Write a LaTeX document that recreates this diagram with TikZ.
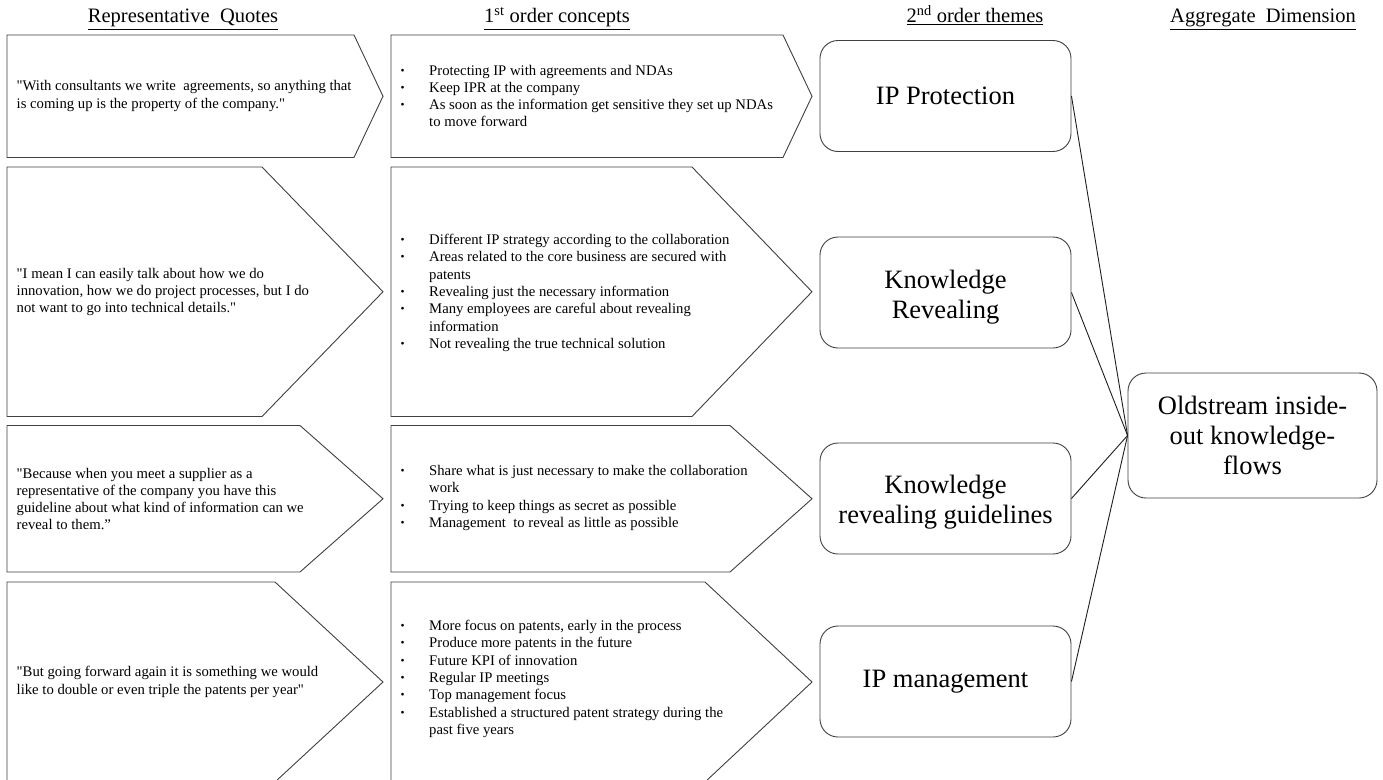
\documentclass[tikz,border=0pt]{standalone}
\usepackage{fontspec}
\setmainfont{Liberation Serif}
\definecolor{edge}{RGB}{64,64,64}
\definecolor{linkc}{RGB}{30,30,30}
\newcommand\qd{\textquotedbl}
\newcommand\bitem[1]{\makebox[31pt][l]{\hspace{2.5pt}\raisebox{1pt}{\fontsize{11.5}{11.5}\selectfont\textbullet}}#1}
\newcommand\bcont[1]{\hspace*{31pt}#1}
% home-plate (pentagon arrow): left x, corner x, tip x, top y, bottom y
\newcommand\homeplate[5]{\draw[plate] (#1,#4) -- (#2,#4) -- (#3,{(#4+#5)/2}) -- (#2,#5) -- (#1,#5) -- cycle;}
\tikzset{
  plate/.style={draw=edge, line width=0.9pt, fill=white},
  body/.style={anchor=west, align=left, inner sep=0pt, font=\fontsize{14.7}{17.3}\selectfont},
  theme/.style={draw=edge, line width=0.9pt, rounded corners=18pt, minimum width=251pt,
    minimum height=111pt, align=center, inner sep=2pt, font=\fontsize{26.5}{30}\selectfont},
  head/.style={anchor=base, inner sep=0pt, font=\fontsize{20.5}{24}\selectfont},
  link/.style={draw=linkc, line width=0.9pt}
}
\begin{document}
\begin{tikzpicture}[x=1pt,y=-1pt]
\fill[white] (0,0) rectangle (1383,779);
\useasboundingbox (0,0) rectangle (1383,779);

% column headings
\node[head] (h1) at (183,23) {\underline{Representative\ \ Quotes}};
\node[head] (h2) at (557,23) {\underline{1\textsuperscript{st} order concepts}};
\node[head] (h3) at (975,23) {\underline{2\textsuperscript{nd} order themes}};
\node[head] (h4) at (1263,23) {\underline{Aggregate\ \ Dimension}};

% quote arrows
\homeplate{7}{354}{383}{35}{157.5}
\homeplate{7}{262}{383}{167}{416.5}
\homeplate{7}{300}{383}{425.5}{572}
\homeplate{7}{275}{383}{582}{782}

% concept arrows
\homeplate{391}{783}{812}{35}{157.5}
\homeplate{391}{692}{812}{167}{416.5}
\homeplate{391}{730}{812}{425.5}{572}
\homeplate{391}{705}{812}{582}{782}

% quotes
\node[body] (q1) at (16.5,96) {\qd With consultants we write\ \ agreements, so anything that\\is coming up is the property of the company.\qd};
\node[body] (q2) at (16.5,292) {\qd I mean I can easily talk about how we do\\innovation, how we do project processes, but I do\\not want to go into technical details.\qd};
\node[body] (q3) at (16.5,499) {\qd Because when you meet a supplier as a\\representative of the company you have this\\guideline about what kind of information can we\\reveal to them.”};
\node[body] (q4) at (16.5,682) {\qd But going forward again it is something we would\\like to double or even triple the patents per year\qd};

% first order concepts
\node[body] (c1) at (398,96) {\bitem{Protecting IP with agreements and NDAs}\\
  \bitem{Keep IPR at the company}\\
  \bitem{As soon as the information get sensitive they set up NDAs}\\
  \bcont{to move forward}};
\node[body] (c2) at (398,293) {\bitem{Different IP strategy according to the collaboration}\\
  \bitem{Areas related to the core business are secured with}\\
  \bcont{patents}\\
  \bitem{Revealing just the necessary information}\\
  \bitem{Many employees are careful about revealing}\\
  \bcont{information}\\
  \bitem{Not revealing the true technical solution}};
\node[body] (c3) at (398,498) {\bitem{Share what is just necessary to make the collaboration}\\
  \bcont{work}\\
  \bitem{Trying to keep things as secret as possible}\\
  \bitem{Management\ \ to reveal as little as possible}};
\node[body] (c4) at (398,679) {\bitem{More focus on patents, early in the process}\\
  \bitem{Produce more patents in the future}\\
  \bitem{Future KPI of innovation}\\
  \bitem{Regular IP meetings}\\
  \bitem{Top management focus}\\
  \bitem{Established a structured patent strategy during the}\\
  \bcont{past five years}};

% second order themes (a strut on the first line sets the two-line texts a little lower)
\node[theme] (t1) at (945.5,96) {IP Protection};
\node[theme] (t2) at (945.5,292.5) {\rule{0pt}{28.5pt}Knowledge\\Revealing};
\node[theme] (t3) at (945.5,498.5) {\rule{0pt}{25.5pt}Knowledge\\revealing guidelines};
\node[theme] (t4) at (945.5,681.5) {IP management};

% aggregate dimension
\node[theme, minimum width=249pt, minimum height=125pt] (agg) at (1252.5,435.5) {Oldstream inside-\\out knowledge-\\flows};

% links to the aggregate dimension
\draw[link] (t1.east) -- (agg.west);
\draw[link] (t2.east) -- (agg.west);
\draw[link] (t3.east) -- (agg.west);
\draw[link] (t4.east) -- (agg.west);
\end{tikzpicture}
\end{document}
